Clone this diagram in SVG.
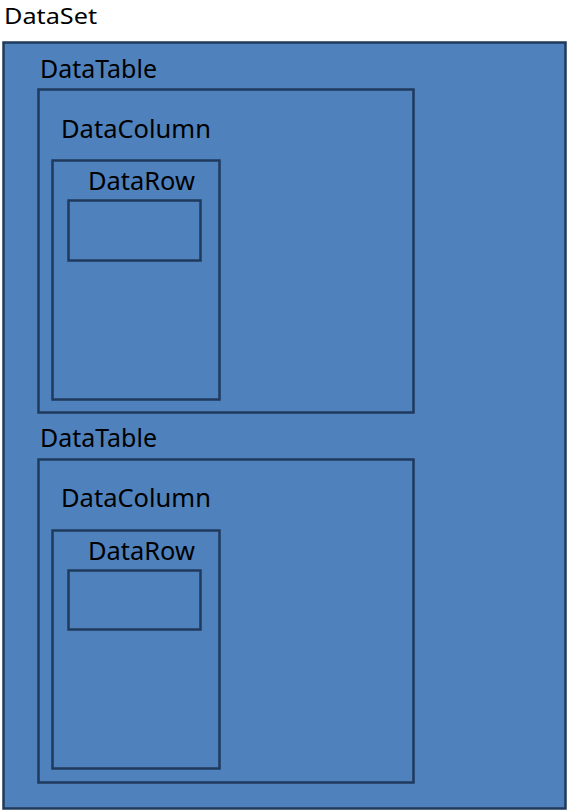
<svg xmlns="http://www.w3.org/2000/svg" width="567" height="810" viewBox="0 0 567 810">
<style>
.b{fill:#4F81BD;stroke:#1F3A5C;stroke-width:2.5}
.n{fill:none;stroke:#1F3A5C;stroke-width:2.5}
text{font-family:"Noto Sans","Open Sans",sans-serif;font-size:24.5px;fill:#000}
</style>
<rect width="567" height="810" fill="#fff"/>
<g id="dataset">
<text x="4" y="24" style="font-size:22px" textLength="93" lengthAdjust="spacingAndGlyphs">DataSet</text>
<rect class="b" x="3.5" y="42.5" width="562" height="766"/>
</g>
<g id="datatable1">
<text x="40" y="78" textLength="117" lengthAdjust="spacingAndGlyphs">DataTable</text>
<rect class="n" x="38.5" y="89.5" width="375" height="323"/>
</g>
<g id="datacolumn1">
<text x="61" y="138" textLength="150" lengthAdjust="spacingAndGlyphs">DataColumn</text>
<rect class="n" x="52.5" y="160.5" width="167" height="239"/>
</g>
<g id="datarow1">
<text x="88" y="190" textLength="107" lengthAdjust="spacingAndGlyphs">DataRow</text>
<rect class="n" x="68.5" y="200.5" width="132" height="60"/>
</g>
<g id="datatable2">
<text x="40" y="447" textLength="117" lengthAdjust="spacingAndGlyphs">DataTable</text>
<rect class="n" x="38.5" y="459.5" width="375" height="323"/>
</g>
<g id="datacolumn2">
<text x="61" y="507" textLength="150" lengthAdjust="spacingAndGlyphs">DataColumn</text>
<rect class="n" x="52.5" y="530.5" width="167" height="238"/>
</g>
<g id="datarow2">
<text x="88" y="560" textLength="107" lengthAdjust="spacingAndGlyphs">DataRow</text>
<rect class="n" x="68.5" y="570.5" width="132" height="59"/>
</g>
<g id="connectors"/>
</svg>
